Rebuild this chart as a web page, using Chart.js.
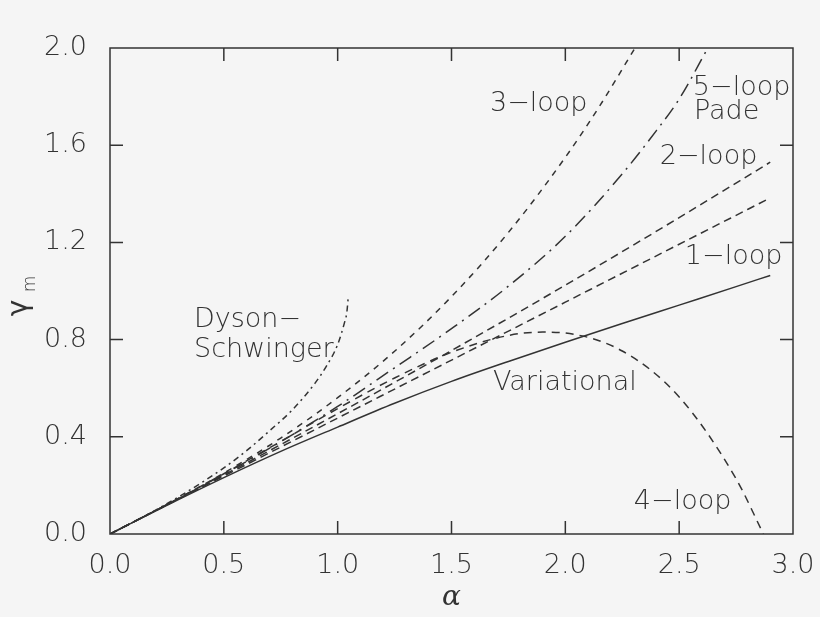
<!DOCTYPE html>
<html>
<head>
<meta charset="utf-8">
<script src="https://cdn.jsdelivr.net/npm/chart.js@4.4.1/dist/chart.umd.min.js"></script>
<style>
html, body { margin: 0; padding: 0; background: #f5f5f5; overflow: hidden; }
#wrap { width: 820px; height: 617px; }
</style>
</head>
<body>
<div id="wrap"><canvas id="gammaChart" width="820" height="617"></canvas></div>
<script>
// values: alpha on x, gamma_m on y
const alphaVar = [0, 0.25, 0.5, 0.75, 1.0, 1.25, 1.5, 1.75, 2.0, 2.25, 2.5, 2.75, 2.9];
const gammaVar = [0, 0.118, 0.232, 0.34, 0.44, 0.538, 0.628, 0.71, 0.789, 0.866, 0.942, 1.018, 1.064];

const alpha1 = [0, 1.0, 2.0, 2.9];
const gamma1 = [0, 0.477, 0.954, 1.383];

const alpha2 = [0, 0.5, 1.0, 1.5, 2.0, 2.5, 2.9];
const gamma2 = [0, 0.243, 0.495, 0.755, 1.024, 1.302, 1.53];

const alpha3 = [0, 0.25, 0.5, 0.75, 1.0, 1.25, 1.5, 1.75, 2.0, 2.15, 2.306];
const gamma3 = [0, 0.121, 0.251, 0.395, 0.561, 0.752, 0.977, 1.241, 1.55, 1.76, 2.0];

const alpha4 = [0, 0.25, 0.5, 0.75, 1.0, 1.25, 1.5, 1.75, 1.9, 2.0, 2.25, 2.5, 2.75, 2.87];
const gamma4 = [0, 0.121, 0.248, 0.381, 0.516, 0.642, 0.748, 0.817, 0.831, 0.827, 0.753, 0.564, 0.227, 0];

const alphaPade = [0, 0.25, 0.5, 0.75, 1.0, 1.25, 1.5, 1.75, 2.0, 2.25, 2.4, 2.5, 2.626];
const gammaPade = [0, 0.121, 0.246, 0.38, 0.525, 0.684, 0.845, 1.02, 1.225, 1.482, 1.66, 1.79, 2.0];

const alphaDS = [0, 0.1, 0.2, 0.3, 0.4, 0.5, 0.6, 0.7, 0.8, 0.9, 0.95, 1.0, 1.03, 1.04, 1.047];
const gammaDS = [0, 0.048, 0.098, 0.152, 0.21, 0.272, 0.343, 0.424, 0.51, 0.62, 0.69, 0.78, 0.87, 0.91, 0.98];

// curve labels (text, alpha of left edge, gamma of middle)
const curveLabels = ['3\u2212loop', '5\u2212loop', 'Pade', '2\u2212loop', '1\u2212loop', 'Dyson\u2212', 'Schwinger', 'Variational', '4\u2212loop'];
const labelAlpha = [1.669, 2.56, 2.565, 2.415, 2.525, 0.369, 0.369, 1.682, 2.301];
const labelGamma = [1.77, 1.836, 1.737, 1.552, 1.14, 0.881, 0.757, 0.622, 0.132];

const ink = '#333';
const textFont = '200 27px "DejaVu Sans"';

function pts(xs, ys) {
    return xs.map((a, i) => ({ x: a, y: ys[i] }));
}

function curve(xs, ys, dash) {
    return {
        data: pts(xs, ys),
        showLine: true,
        borderColor: ink,
        borderWidth: 1.5,
        borderDash: dash,
        pointRadius: 0,
        cubicInterpolationMode: 'monotone',
        fill: false
    };
}

const framePlugin = {
    id: 'frame',
    beforeDraw(chart) {
        const ctx = chart.ctx;
        ctx.save();
        ctx.fillStyle = '#f5f5f5';
        ctx.fillRect(0, 0, chart.width, chart.height);
        ctx.restore();
    },
    afterDraw(chart) {
        const { ctx, chartArea: a, scales: { x, y } } = chart;
        ctx.save();
        ctx.strokeStyle = ink;
        ctx.lineWidth = 1.5;
        ctx.strokeRect(a.left, a.top, a.right - a.left, a.bottom - a.top);

        // inward ticks on all four sides
        ctx.beginPath();
        x.ticks.forEach(t => {
            const px = x.getPixelForValue(t.value);
            if (px < a.left + 2 || px > a.right - 2) return;
            ctx.moveTo(px, a.bottom); ctx.lineTo(px, a.bottom - 13);
            ctx.moveTo(px, a.top); ctx.lineTo(px, a.top + 13);
        });
        y.ticks.forEach(t => {
            const py = y.getPixelForValue(t.value);
            if (py < a.top + 2 || py > a.bottom - 2) return;
            ctx.moveTo(a.left, py); ctx.lineTo(a.left + 13, py);
            ctx.moveTo(a.right, py); ctx.lineTo(a.right - 13, py);
        });
        ctx.stroke();

        // curve labels
        ctx.fillStyle = ink;
        ctx.font = textFont;
        ctx.textAlign = 'left';
        ctx.textBaseline = 'middle';
        curveLabels.forEach((s, i) => {
            ctx.fillText(s, x.getPixelForValue(labelAlpha[i]), y.getPixelForValue(labelGamma[i]));
        });

        // y axis title: gamma with subscript m, turned
        ctx.save();
        ctx.translate(20, 308);
        ctx.rotate(-Math.PI / 2);
        ctx.textAlign = 'center';
        ctx.font = '28px "DejaVu Sans"';
        ctx.fillText('\u03b3', 0, 0);
        ctx.font = '200 17px "DejaVu Sans"';
        ctx.fillText('m', 24, 11);
        ctx.restore();

        ctx.restore();
    }
};

const ctx = document.getElementById('gammaChart').getContext('2d');
const gammaChart = new Chart(ctx, {
    type: 'scatter',
    data: {
        datasets: [
            curve(alphaVar, gammaVar, []),
            curve(alpha1, gamma1, [8, 5]),
            curve(alpha2, gamma2, [8, 5]),
            curve(alpha3, gamma3, [6, 6]),
            curve(alpha4, gamma4, [8, 6]),
            curve(alphaPade, gammaPade, [14, 6, 2, 6]),
            curve(alphaDS, gammaDS, [6, 4, 2, 4])
        ]
    },
    options: {
        responsive: false,
        animation: false,
        layout: { padding: { top: 48, right: 27, left: 0, bottom: 0 } },
        plugins: {
            legend: { display: false },
            tooltip: { enabled: false }
        },
        scales: {
            x: {
                type: 'linear',
                min: 0,
                max: 3,
                grid: { display: false, drawTicks: false },
                border: { display: false },
                ticks: {
                    stepSize: 0.5,
                    padding: 16,
                    color: ink,
                    font: { family: 'DejaVu Sans', size: 27, weight: 200 },
                    maxRotation: 0,
                    callback: v => v.toFixed(1)
                },
                title: {
                    display: true,
                    text: '\u03b1',
                    color: ink,
                    font: { family: 'DejaVu Serif', size: 28, style: 'italic' },
                    padding: { top: 0, bottom: 2 }
                },
                afterFit(scale) {
                    scale.height = 83;
                    scale.paddingLeft = 0;
                    scale.paddingRight = 0;
                }
            },
            y: {
                type: 'linear',
                min: 0,
                max: 2,
                grid: { display: false, drawTicks: false },
                border: { display: false },
                ticks: {
                    stepSize: 0.4,
                    padding: 23,
                    color: ink,
                    font: { family: 'DejaVu Sans', size: 27, weight: 200 },
                    callback: v => v.toFixed(1)
                },
                afterFit(scale) {
                    scale.width = 110;
                    scale.paddingTop = 0;
                    scale.paddingBottom = 0;
                }
            }
        }
    },
    plugins: [framePlugin]
});
</script>
</body>
</html>
